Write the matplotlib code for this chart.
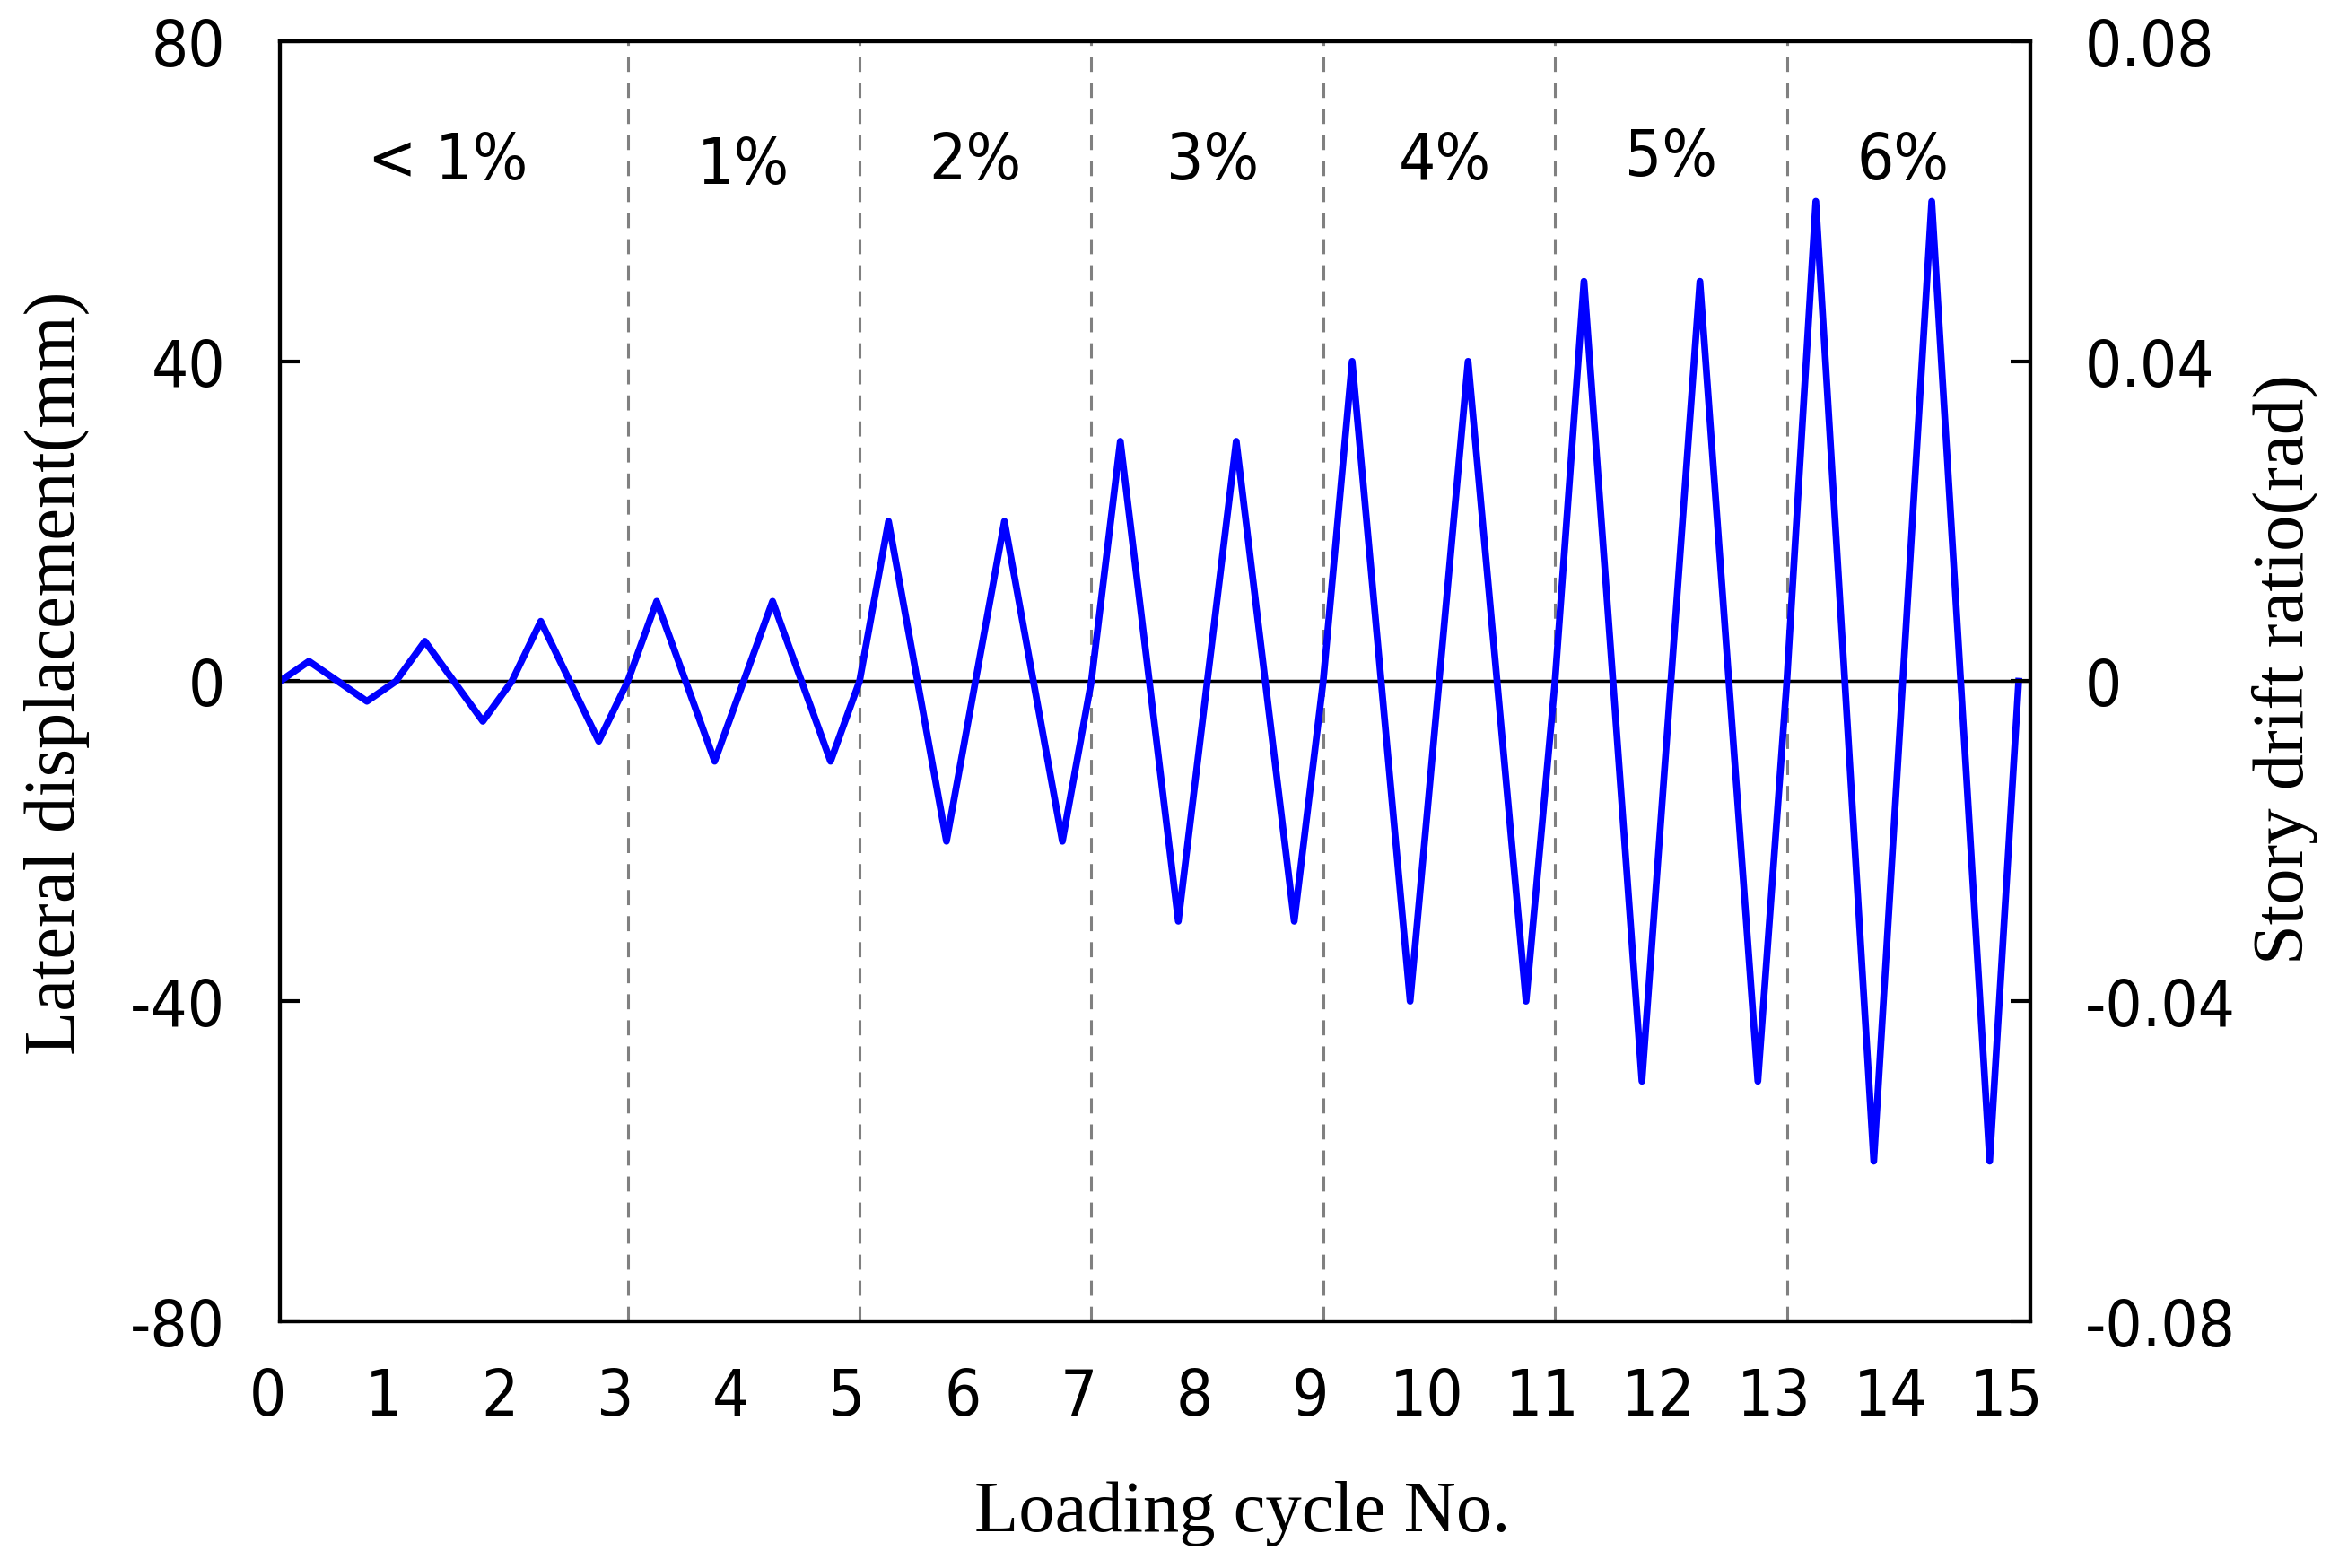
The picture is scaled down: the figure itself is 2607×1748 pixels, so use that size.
import matplotlib
matplotlib.use("Agg")
import matplotlib.pyplot as plt
import matplotlib.transforms as mtransforms
from matplotlib import font_manager

plt.rcParams["axes.unicode_minus"] = False

# loading history
cycle_x = [0, 0.25, 0.75, 1.0, 1.25, 1.75, 2.0, 2.25, 2.75, 3.0,
           3.25, 3.75, 4.25, 4.75, 5.0,
           5.25, 5.75, 6.25, 6.75, 7.0,
           7.25, 7.75, 8.25, 8.75, 9.0,
           9.25, 9.75, 10.25, 10.75, 11.0,
           11.25, 11.75, 12.25, 12.75, 13.0,
           13.25, 13.75, 14.25, 14.75, 15.0]
disp_mm = [0, 2.5, -2.5, 0, 5, -5, 0, 7.5, -7.5, 0,
           10, -10, 10, -10, 0,
           20, -20, 20, -20, 0,
           30, -30, 30, -30, 0,
           40, -40, 40, -40, 0,
           50, -50, 50, -50, 0,
           60, -60, 60, -60, 0]

stage_bounds = [3, 5, 7, 9, 11, 13]
stage_labels = ["< 1%", "1%", "2%", "3%", "4%", "5%", "6%"]
stage_label_x = [1.45, 4, 6, 8.05, 10.05, 12, 14]
stage_label_y = [65, 64.5, 65, 65, 65, 65.5, 65]

x_ticks = list(range(0, 16))
left_ticks = [-80, -40, 0, 40, 80]
left_ticklabels = ["-80", "-40", "0", "40", "80"]
right_ticks = [-0.08, -0.04, 0, 0.04, 0.08]
right_ticklabels = ["-0.08", "-0.04", "0", "0.04", "0.08"]

SERIF = ["Liberation Serif", "DejaVu Serif"]
LABEL_FS = 58


def narrow_font(size):
    """Pick a condensed sans if one is installed, else a plain one."""
    fonts = font_manager.fontManager.ttflist
    for f in fonts:
        if f.name == "Liberation Sans Narrow" and f.style == "normal" and f.weight in (400, "normal"):
            return font_manager.FontProperties(fname=f.fname, size=size)
    for f in fonts:
        if f.name == "DejaVu Sans" and "Condensed" in f.fname and "Bold" not in f.fname \
                and "Oblique" not in f.fname:
            return font_manager.FontProperties(fname=f.fname, size=size - 4)
    return font_manager.FontProperties(family="Liberation Sans", size=size - 6)


tick_font = narrow_font(56)

fig = plt.figure(figsize=(26.07, 17.49), dpi=100)
ax = fig.add_axes([0.1197, 0.1573, 0.868 - 0.1197, 0.9731 - 0.1573])

ax.plot(cycle_x, disp_mm, color="#0000ff", linewidth=5.5, zorder=3)
ax.axhline(0, color="black", linewidth=2.5, zorder=2)
for xb in stage_bounds:
    ax.axvline(xb, color="#808080", linewidth=2.2, linestyle=(0, (5.5, 4)), zorder=1)

for lab, lx, ly in zip(stage_labels, stage_label_x, stage_label_y):
    ax.text(lx, ly, lab, ha="center", va="center", fontproperties=tick_font)

ax.set_xlim(0, 15.1)
ax.set_ylim(-80, 80)

ax.set_xticks(x_ticks)
ax.set_xticklabels([str(t) for t in x_ticks], fontproperties=tick_font)
ax.tick_params(axis="x", length=0, pad=36)
shift = mtransforms.ScaledTranslation(-14 / 100, 0, fig.dpi_scale_trans)
for lbl in ax.get_xticklabels():
    lbl.set_transform(lbl.get_transform() + shift)

ax.set_yticks(left_ticks)
ax.set_yticklabels(left_ticklabels, fontproperties=tick_font)
ax.tick_params(axis="y", direction="in", length=16, width=3, pad=44)

for sp in ax.spines.values():
    sp.set_linewidth(3)

ax.set_xlabel("Loading cycle No.", family=SERIF, fontsize=LABEL_FS)
ax.xaxis.set_label_coords(0.55, -0.15)
ax.xaxis.label.set_va("center")
ax.set_ylabel("Lateral displacement(mm)", family=SERIF, fontsize=LABEL_FS)
ax.yaxis.set_label_coords(-0.1276, 0.507)
ax.yaxis.label.set_va("center")

ax2 = ax.twinx()
ax2.set_ylim(-0.08, 0.08)
ax2.set_yticks(right_ticks)
ax2.set_yticklabels(right_ticklabels, fontproperties=tick_font)
ax2.tick_params(axis="y", direction="in", length=16, width=3, pad=44)
for sp in ax2.spines.values():
    sp.set_linewidth(3)
ax2.set_ylabel("Story drift ratio(rad)", family=SERIF, fontsize=LABEL_FS)
ax2.yaxis.set_label_coords(1.1456, 0.51)
ax2.yaxis.label.set_va("center")

fig.savefig("out.png", dpi=100)
